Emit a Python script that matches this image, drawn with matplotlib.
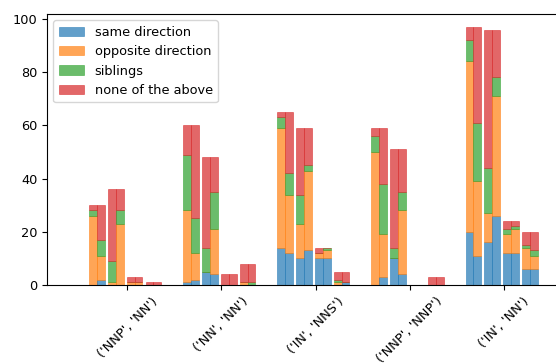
import numpy as np
import matplotlib
matplotlib.use("Agg")
import matplotlib.pyplot as plt

plt.rcParams["font.size"] = 9.3

groups = ["('NNP', 'NN')", "('NN', 'NN')", "('IN', 'NNS')", "('NNP', 'NNP')", "('IN', 'NN')"]
labels = ["same direction", "opposite direction", "siblings", "none of the above"]

# 5 slots per group, two halves (left / right) per slot
same_left = [0, 0, 0, 0, 0,  0, 1, 5, 0, 0,  0, 14, 10, 10, 0,  0, 0, 10, 0, 0,  0, 20, 16, 12, 6]
opp_left = [0, 26, 1, 1, 0,  0, 27, 0, 0, 1,  0, 45, 13, 2, 1,  0, 50, 0, 0, 0,  0, 64, 11, 7, 8]
sib_left = [0, 2, 8, 0, 0,  0, 21, 9, 0, 0,  0, 4, 11, 0, 1,  0, 6, 4, 0, 0,  0, 8, 17, 2, 1]
none_left = [0, 2, 27, 2, 1,  0, 11, 34, 4, 7,  0, 2, 25, 2, 3,  0, 3, 37, 0, 3,  0, 5, 52, 3, 5]

same_right = [0, 2, 0, 0, 0,  0, 2, 4, 0, 0,  0, 12, 13, 10, 1,  0, 3, 4, 0, 0,  0, 11, 26, 12, 6]
opp_right = [0, 9, 23, 1, 0,  0, 10, 17, 0, 0,  0, 22, 30, 3, 0,  0, 16, 24, 0, 0,  0, 28, 45, 9, 5]
sib_right = [0, 6, 5, 0, 0,  0, 13, 14, 0, 1,  0, 8, 2, 1, 0,  0, 19, 7, 0, 0,  0, 22, 7, 1, 2]
none_right = [0, 13, 8, 2, 1,  0, 35, 13, 4, 7,  0, 23, 14, 0, 4,  0, 21, 16, 0, 3,  0, 36, 18, 2, 7]

colors = ["tab:blue", "tab:orange", "tab:green", "tab:red"]

fig = plt.figure(figsize=(5.56, 3.63), dpi=100)
ax = fig.add_axes([0.0845, 0.2149, 0.9245, 0.7466])

offsets = np.array([-0.523, -0.323, -0.123, 0.077, 0.277])
x = (np.arange(len(groups))[:, None] + offsets[None, :]).ravel()
w = 1 / 12

left = [same_left, opp_left, sib_left, none_left]
right = [same_right, opp_right, sib_right, none_right]

for halves, shift, lab in [(left, -w / 2, True), (right, w / 2, False)]:
    bottom = np.zeros(len(x))
    for vals, c, name in zip(halves, colors, labels):
        vals = np.array(vals, dtype=float)
        ax.bar(x + shift, vals, width=w, bottom=bottom, color=c, alpha=0.7,
               edgecolor=c, linewidth=0.5, label=name if lab else None)
        bottom += vals

ax.set_xticks(np.arange(len(groups)))
ax.set_xticklabels(groups, rotation=45)
ax.set_yticks([0, 20, 40, 60, 80, 100])
ax.legend(loc="upper left")

fig.savefig("out.png", dpi=100)
